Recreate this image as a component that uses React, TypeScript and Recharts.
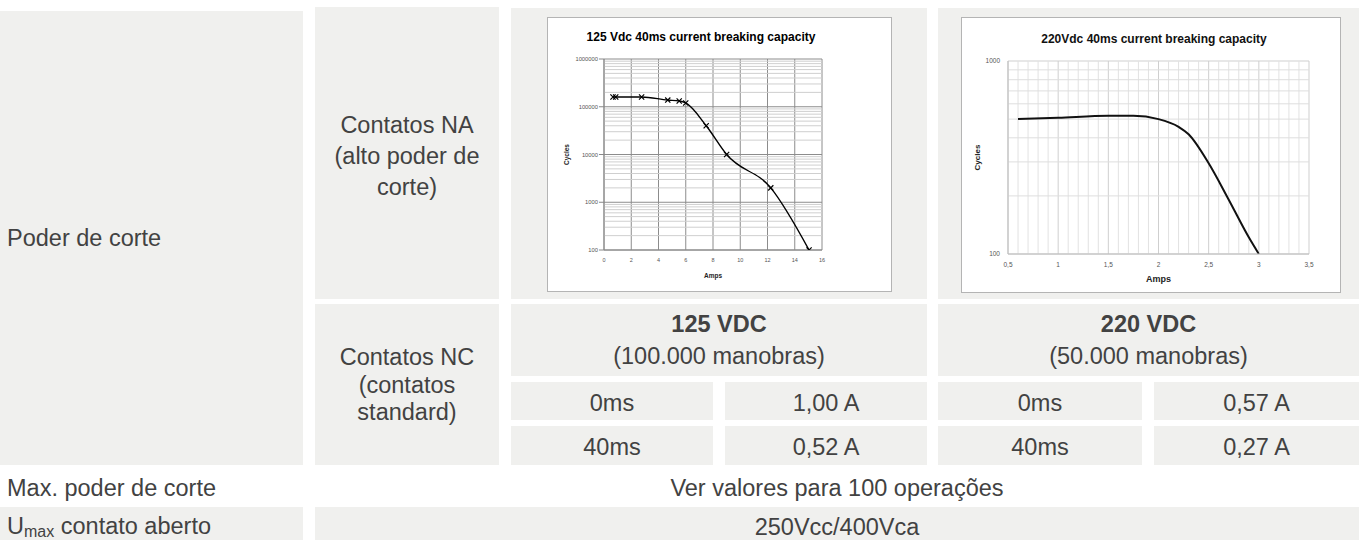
import { CartesianGrid, Line, LineChart, ReferenceLine, XAxis, YAxis } from "recharts";

// 125 Vdc curve (markers at every point)
const amps125 = [0.66, 0.86, 2.76, 4.68, 5.52, 6.0, 7.5, 9.0, 12.24, 15.05];
const cycles125 = [160000, 160000, 160000, 138000, 132000, 120000, 40000, 10000, 2000, 100];
const ampTicks125 = [0, 2, 4, 6, 8, 10, 12, 14, 16];
const cycleTicks125 = [100, 1000, 10000, 100000, 1000000];
const cycleMinor125 = [
  200, 300, 400, 500, 600, 700, 800, 900,
  2000, 3000, 4000, 5000, 6000, 7000, 8000, 9000,
  20000, 30000, 40000, 50000, 60000, 70000, 80000, 90000,
  200000, 300000, 400000, 500000, 600000, 700000, 800000, 900000
];

// 220 Vdc curve (no markers)
const amps220 = [0.6, 1.0, 1.5, 1.75, 2.0, 2.2, 2.3, 2.5, 2.7, 2.9, 3.0];
const cycles220 = [500, 508, 520, 520, 500, 456, 417, 295, 191, 122, 100];
const ampTicks220 = [0.5, 1, 1.5, 2, 2.5, 3, 3.5];
const ampMinor220 = [
  0.6, 0.7, 0.8, 0.9, 1.1, 1.2, 1.3, 1.4, 1.6, 1.7, 1.8, 1.9,
  2.1, 2.2, 2.3, 2.4, 2.6, 2.7, 2.8, 2.9, 3.1, 3.2, 3.3, 3.4
];
const cycleTicks220 = [100, 1000];
const cycleMinor220 = [200, 300, 400, 500, 600, 700, 800, 900];

const GRAY = "#f0f0ee";
const TEXT = "#424242";

function Cell({ x, y, w, h, bg = GRAY, left = false, lh, pt = 0, children }: any) {
  return (
    <div
      style={{
        position: "absolute",
        left: x,
        top: y,
        width: w,
        height: h,
        background: bg,
        display: "flex",
        alignItems: "center",
        justifyContent: left ? "flex-start" : "center",
        textAlign: left ? "left" : "center",
        paddingLeft: left ? 7 : 0,
        paddingTop: pt,
        lineHeight: lh ? `${lh}px` : undefined,
        boxSizing: "border-box"
      }}
    >
      <div>{children}</div>
    </div>
  );
}

const cross = (props: any) => {
  const { cx, cy, index } = props;
  const s = 2.6;
  return (
    <path
      key={`x${index}`}
      d={`M${cx - s},${cy - s}L${cx + s},${cy + s}M${cx - s},${cy + s}L${cx + s},${cy - s}`}
      stroke="#000"
      strokeWidth={1.2}
      fill="none"
    />
  );
};

const comma = (v: number) => String(v).replace(".", ",");

function Chart125() {
  const data = amps125.map((a, i) => ({ amps: a, cycles: cycles125[i] }));
  return (
    <div
      style={{
        position: "absolute",
        left: 547,
        top: 17,
        width: 343,
        height: 273,
        border: "1px solid #b4b4b4",
        background: "#fff"
      }}
    >
      <div
        style={{
          position: "absolute",
          left: 0,
          top: 12,
          width: 306,
          textAlign: "center",
          fontWeight: "bold",
          fontSize: 12,
          lineHeight: "14px",
          color: "#000"
        }}
      >
        125 Vdc 40ms current breaking capacity
      </div>
      <LineChart width={343} height={273} data={data} margin={{ top: 41, right: 69, bottom: 11, left: 0 }}>
        <CartesianGrid stroke="#8c8c8c" />
        {cycleMinor125.map((v) => (
          <ReferenceLine key={v} y={v} stroke="#cfcfcf" ifOverflow="hidden" />
        ))}
        <XAxis
          dataKey="amps"
          type="number"
          domain={[0, 16]}
          ticks={ampTicks125}
          interval={0}
          height={30}
          tick={{ fontSize: 5.5, fill: "#555" }}
          tickLine={false}
          axisLine={{ stroke: "#888" }}
          label={{ value: "Amps", position: "insideBottom", offset: 2, fontSize: 6.5, fontWeight: "bold", fill: "#222" }}
        />
        <YAxis
          type="number"
          scale="log"
          domain={[100, 1000000]}
          ticks={cycleTicks125}
          interval={0}
          allowDataOverflow
          width={56}
          tickSize={5}
          tickMargin={1}
          tick={{ fontSize: 5.8, fill: "#555" }}
          tickLine={{ stroke: "#888" }}
          axisLine={{ stroke: "#888" }}
          label={{
            value: "Cycles",
            angle: -90,
            position: "insideLeft",
            offset: 19,
            fontSize: 6.5,
            fontWeight: "bold",
            fill: "#222",
            style: { textAnchor: "middle" }
          }}
        />
        <Line
          type="monotone"
          dataKey="cycles"
          stroke="#000"
          strokeWidth={1.4}
          dot={cross}
          isAnimationActive={false}
        />
      </LineChart>
    </div>
  );
}

function Chart220() {
  const data = amps220.map((a, i) => ({ amps: a, cycles: cycles220[i] }));
  return (
    <div
      style={{
        position: "absolute",
        left: 961,
        top: 17,
        width: 378,
        height: 274,
        border: "1px solid #b4b4b4",
        background: "#fff"
      }}
    >
      <div
        style={{
          position: "absolute",
          left: 2,
          top: 14,
          width: 380,
          textAlign: "center",
          fontWeight: "bold",
          fontSize: 12,
          lineHeight: "14px",
          color: "#111"
        }}
      >
        220Vdc 40ms current breaking capacity
      </div>
      <LineChart width={378} height={274} data={data} margin={{ top: 43, right: 31, bottom: 10, left: 0 }}>
        {ampMinor220.map((v) => (
          <ReferenceLine key={`x${v}`} x={v} stroke="#e2e2e2" ifOverflow="hidden" />
        ))}
        {cycleMinor220.map((v) => (
          <ReferenceLine key={`y${v}`} y={v} stroke="#dedede" ifOverflow="hidden" />
        ))}
        <CartesianGrid stroke="#cfcfcf" />
        <XAxis
          dataKey="amps"
          type="number"
          domain={[0.5, 3.5]}
          ticks={ampTicks220}
          interval={0}
          height={28}
          tickFormatter={comma}
          tick={{ fontSize: 6.5, fill: "#555" }}
          tickLine={false}
          axisLine={{ stroke: "#bdbdbd" }}
          label={{ value: "Amps", position: "insideBottom", offset: 0, fontSize: 9, fontWeight: "bold", fill: "#222" }}
        />
        <YAxis
          type="number"
          scale="log"
          domain={[100, 1000]}
          ticks={cycleTicks220}
          interval={0}
          allowDataOverflow
          width={46}
          tickSize={4}
          tickMargin={4}
          tick={{ fontSize: 6.5, fill: "#555" }}
          tickLine={false}
          axisLine={{ stroke: "#bdbdbd" }}
          label={{
            value: "Cycles",
            angle: -90,
            position: "insideLeft",
            offset: 15,
            fontSize: 8,
            fontWeight: "bold",
            fill: "#222",
            style: { textAnchor: "middle" }
          }}
        />
        <Line
          type="monotone"
          dataKey="cycles"
          stroke="#111"
          strokeWidth={2}
          dot={false}
          isAnimationActive={false}
        />
      </LineChart>
    </div>
  );
}

export default function App() {
  return (
    <div
      style={{
        position: "absolute",
        left: 0,
        top: 0,
        width: 1362,
        height: 540,
        overflow: "hidden",
        background: "#fff",
        fontFamily: "'Liberation Sans', Arial, sans-serif",
        fontSize: 23.5,
        lineHeight: "28px",
        color: TEXT
      }}
    >
      <Cell x={0} y={11} w={303} h={454} left>
        Poder de corte
      </Cell>
      <Cell x={315} y={7} w={184} h={292} lh={31} pt={6}>
        Contatos NA
        <br />
        (alto poder de
        <br />
        corte)
      </Cell>
      <Cell x={315} y={304} w={184} h={161} lh={27.5} pt={2}>
        Contatos NC
        <br />
        (contatos
        <br />
        standard)
      </Cell>

      <Cell x={511} y={8} w={416} h={291} />
      <Cell x={938} y={8} w={421} h={291} />
      <Chart125 />
      <Chart220 />

      <Cell x={511} y={304} w={416} h={72} lh={32}>
        <b>125 VDC</b>
        <br />
        (100.000 manobras)
      </Cell>
      <Cell x={938} y={304} w={421} h={72} lh={32}>
        <b>220 VDC</b>
        <br />
        (50.000 manobras)
      </Cell>

      <Cell x={511} y={382} w={202} h={38} pt={3}>0ms</Cell>
      <Cell x={725} y={382} w={202} h={38} pt={3}>1,00 A</Cell>
      <Cell x={938} y={382} w={204} h={38} pt={3}>0ms</Cell>
      <Cell x={1154} y={382} w={205} h={38} pt={3}>0,57 A</Cell>

      <Cell x={511} y={426} w={202} h={39} pt={3}>40ms</Cell>
      <Cell x={725} y={426} w={202} h={39} pt={3}>0,52 A</Cell>
      <Cell x={938} y={426} w={204} h={39} pt={3}>40ms</Cell>
      <Cell x={1154} y={426} w={205} h={39} pt={3}>0,27 A</Cell>

      <Cell x={0} y={469} w={303} h={38} bg="transparent" left>
        Max. poder de corte
      </Cell>
      <Cell x={315} y={469} w={1044} h={38} bg="transparent">
        Ver valores para 100 operações
      </Cell>

      <Cell x={0} y={507} w={303} h={40} left>
        <span>
          U
          <span style={{ fontSize: 16, position: "relative", top: 3 }}>max</span> contato aberto
        </span>
      </Cell>
      <Cell x={315} y={507} w={1044} h={40}>
        250Vcc/400Vca
      </Cell>
    </div>
  );
}
